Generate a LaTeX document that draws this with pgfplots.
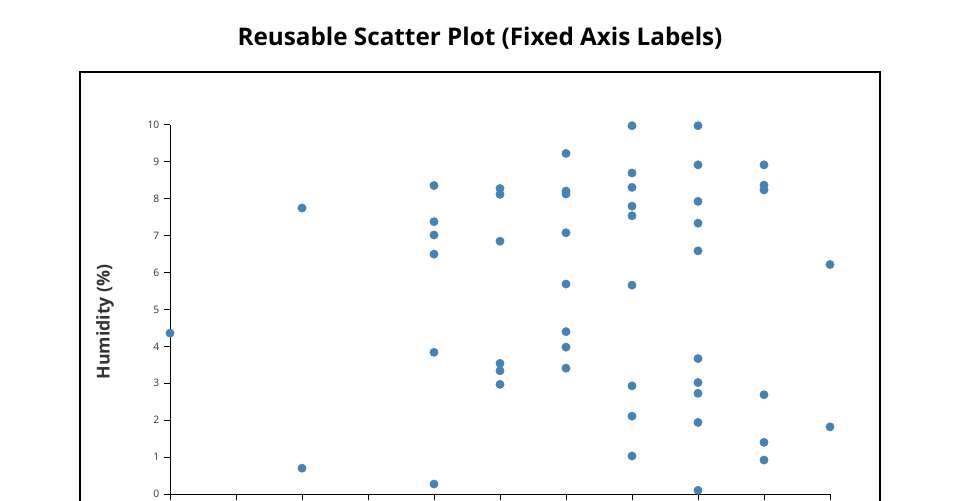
\documentclass[border=0pt]{standalone}
\usepackage{pgfplots}
\pgfplotsset{compat=1.18}
\usepackage{fontspec}
\setmainfont{Open Sans}
\definecolor{steel}{RGB}{70,130,180}
\definecolor{ticktext}{RGB}{51,51,51}
\begin{document}
\begin{tikzpicture}
% 1px = 0.75pt, page is 960x500 px
\useasboundingbox (0,0) rectangle (720pt,375pt);
\clip (0,0) rectangle (720pt,375pt);
\draw[black, line width=0.8pt] (60pt,-20pt) rectangle (660pt,321pt);
\node[font=\bfseries\fontsize{18.2pt}{21pt}\selectfont] at (360pt,346.5pt) {Reusable Scatter Plot (Fixed Axis Labels)};
\node[rotate=90, font=\bfseries\fontsize{13.3pt}{15pt}\selectfont, text=ticktext] at (78.75pt,133.5pt) {Humidity (\%)};
\begin{axis}[
    at={(127.5pt,4.5pt)}, anchor=south west,
    scale only axis,
    width=495pt, height=276.75pt,
    xmin=0, xmax=10, ymin=0, ymax=10,
    axis lines=left, axis line style={-, black, line width=0.75pt},
    xtick={0,1,...,10}, ytick={0,1,...,10},
    xticklabels={},
    tick align=outside, major tick length=4.5pt,
    tick style={black, line width=0.75pt},
    ticklabel style={font=\fontsize{7.7pt}{9pt}\selectfont, text=ticktext},
    /pgf/number format/assume math mode=true,
    clip=false,
]
\addplot[only marks, mark=*, mark size=3.1pt, mark options={fill=steel, draw=steel}] coordinates {
(0,4.36)
(2,7.75) (2,0.70)
(4,8.36) (4,7.38) (4,7.02) (4,6.50) (4,3.84) (4,0.27)
(5,8.28) (5,8.12) (5,6.85) (5,3.54) (5,3.34) (5,2.97)
(6,9.23) (6,8.21) (6,8.13) (6,7.08) (6,5.69) (6,4.40) (6,3.98) (6,3.41)
(7,9.98) (7,8.70) (7,8.31) (7,7.80) (7,7.54) (7,5.66) (7,2.93) (7,2.11) (7,1.03)
(8,9.98) (8,8.92) (8,7.93) (8,7.34) (8,6.59) (8,3.67) (8,3.02) (8,2.73) (8,1.94) (8,0.10)
(9,8.92) (9,8.37) (9,8.24) (9,2.69) (9,1.40) (9,0.92)
(10,6.22) (10,1.82)
};
\end{axis}
\end{tikzpicture}
\end{document}
